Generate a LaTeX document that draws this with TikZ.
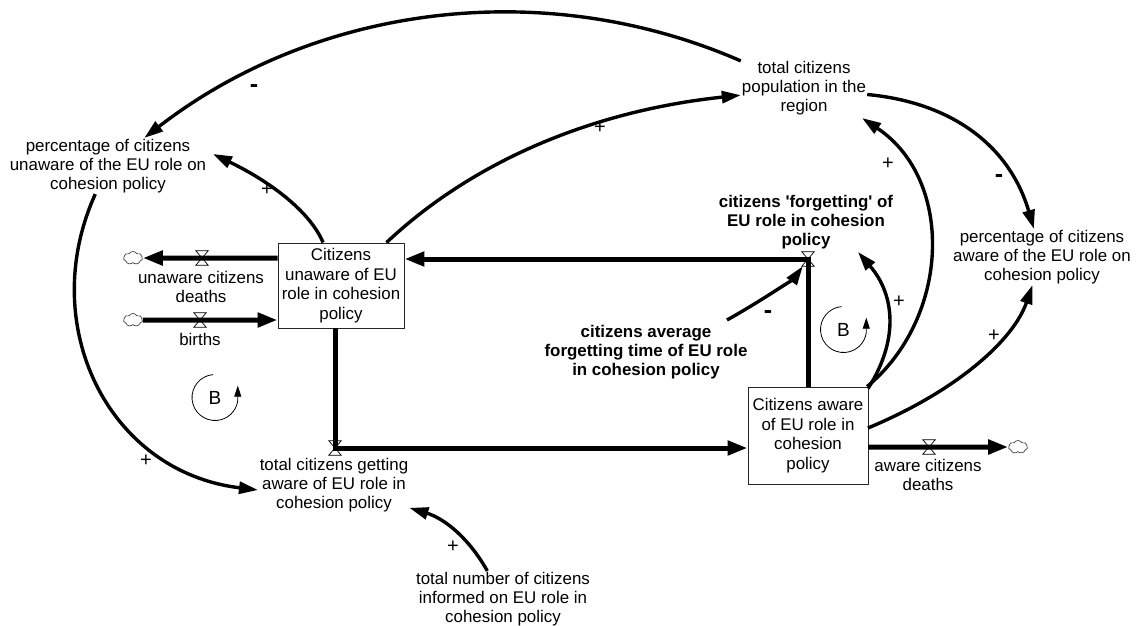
\documentclass[tikz,border=0pt]{standalone}
\usepackage{fontspec}
\setmainfont{Liberation Sans}
\usetikzlibrary{arrows.meta,shapes.symbols,calc}
\newcommand{\varfs}{\fontsize{16.9}{19}\selectfont}
\newcommand{\stockfs}{\fontsize{16.9}{19.6}\selectfont}

\begin{document}
\begin{tikzpicture}[x=1pt,y=-1pt,
  var/.style={align=center, inner sep=1pt, font=\varfs},
  bvar/.style={var, font=\varfs\bfseries},
  stock/.style={draw=black!85, line width=0.9pt, align=center, inner sep=1pt, font=\stockfs, fill=white},
  valve/.style={inner sep=0pt, minimum width=12pt, minimum height=14pt},
  valveline/.style={draw=black, line width=0.7pt, fill=white, line join=miter},
  cloudn/.style={cloud, cloud puffs=7, cloud puff arc=120, aspect=1.5, draw=black!75, line width=0.7pt, minimum width=19pt, minimum height=13pt, inner sep=0pt},
  pipe/.style={line width=5pt, line join=miter, -{Triangle[length=20pt,width=14pt]}},
  conn/.style={line width=3.4pt, -{Triangle[length=19pt,width=12pt]}},
  polp/.style={font=\fontsize{20}{20}\selectfont, inner sep=0pt},
  poln/.style={font=\fontsize{25}{25}\selectfont\bfseries, inner sep=0pt},
  loopsym/.style={line width=0.8pt, -{Triangle[length=11pt,width=7pt]}},
  looplabel/.style={font=\fontsize{19}{19}\selectfont, inner sep=0pt}
]
\useasboundingbox (0,0) rectangle (1136,626);

% stocks
\node[stock, minimum width=126pt, minimum height=85pt] (s1) at (341,285.5)
  {Citizens\\unaware of EU\\role in cohesion\\policy};
\node[stock, minimum width=120pt, minimum height=97pt] (s2) at (808,435.5)
  {Citizens aware\\of EU role in\\cohesion\\policy};

% auxiliary variables
\node[var] (pcu) at (108,166) {percentage of citizens\\unaware of the EU role on\\cohesion policy};
\node[var] (pop) at (804,88.5) {total citizens\\population in the\\region};
\node[var] (pca) at (1042,257) {percentage of citizens\\aware of the EU role on\\cohesion policy};
\node[bvar] (forg) at (806,222) {citizens \textquotesingle forgetting\textquotesingle\ of\\EU role in cohesion\\policy};
\node[bvar] (avgt) at (646,352) {citizens average\\forgetting time of EU role\\in cohesion policy};
\node[var] (inf) at (503,599) {total number of citizens\\informed on EU role in\\cohesion policy};
\node[var] (getl) at (334,485) {total citizens getting\\aware of EU role in\\cohesion policy};
\node[var] (udl) at (201,287) {unaware citizens\\deaths};
\node[var] (bl) at (200,339) {births};
\node[var] (adl) at (928,475) {aware citizens\\deaths};

% valves and clouds
\node[valve] (vdu) at (202,258) {};
\node[valve] (vb) at (200,320) {};
\node[valve] (vget) at (335,448) {};
\node[valve] (vforg) at (808,259) {};
\node[valve] (vda) at (929,447) {};
\node[cloudn] (c1) at (133,258) {};
\node[cloudn] (c2) at (133,320) {};
\node[cloudn] (c3) at (1018,447) {};

\foreach \v in {vdu,vb,vget,vforg,vda}
  \draw[valveline] (\v.north west) -- (\v.north east) -- (\v.south west) -- (\v.south east) -- cycle;

% flows
\draw[pipe] (s1.west |- vdu) -- (c1);
\draw[pipe] (c2) -- (s1.west |- vb);
\draw[pipe] (s1.south -| vget) -- (vget.center) -- (s2.west |- vget);
\draw[pipe] (s2.north -| vforg) -- (vforg.center) -- (s1.east |- vforg);
\draw[pipe] (s2.east |- vda) -- (c3);

% causal links
\draw[conn] (pop) .. controls (544,-25) and (316,5) .. (pcu);
\draw[conn] (s1) .. controls (310.7,213) and (273,183) .. ([shift={(105,-12)}]pcu.center);
\draw[conn] (s1) .. controls (472,162) and (591,111) .. (pop);
\draw[conn] (pop) .. controls (957,103) and (1011,150) .. (pca);
\draw[conn] (s2) .. controls (950,318) and (955,180) .. ([shift={(58,29.5)}]pop.center);
\draw[conn] ([shift={(60,-47)}]s2.center) .. controls (899,340) and (895,295) .. ([shift={(52,30)}]forg.center);
\draw[conn] ([shift={(60,-7.5)}]s2.center) .. controls (959,390) and (1014,339) .. (pca);
\draw[conn] (pcu) .. controls (36,325) and (108,472) .. ([shift={(-76,5)}]getl.center);
\draw[conn] ([shift={(81,-32)}]avgt.center) .. controls (768,297) and (795,277) .. (vforg);
\draw[conn] (inf) .. controls (470,540) and (446,519) .. (getl);

% polarities
\node[poln] (m1) at (254,89) {-};
\node[polp] (p2) at (267,190) {+};
\node[polp] (p3) at (600,128) {+};
\node[poln] (m4) at (999,179) {-};
\node[polp] (p5) at (888,164) {+};
\node[polp] (p6) at (899,302) {+};
\node[polp] (p7) at (994,336) {+};
\node[polp] (p8) at (146,461) {+};
\node[poln] (m9) at (768,315) {-};
\node[polp] (p10) at (453,547) {+};

% loop markers
\node[looplabel] (bL) at (215,397.5) {B};
\draw[loopsym] ([shift={(265:23)}]bL.center) arc[start angle=265, end angle=8, radius=23] -- ++(0,-15);
\node[looplabel] (bR) at (843.5,329.5) {B};
\draw[loopsym] ([shift={(265:23)}]bR.center) arc[start angle=265, end angle=8, radius=23] -- ++(0,-15);
\end{tikzpicture}
\end{document}
